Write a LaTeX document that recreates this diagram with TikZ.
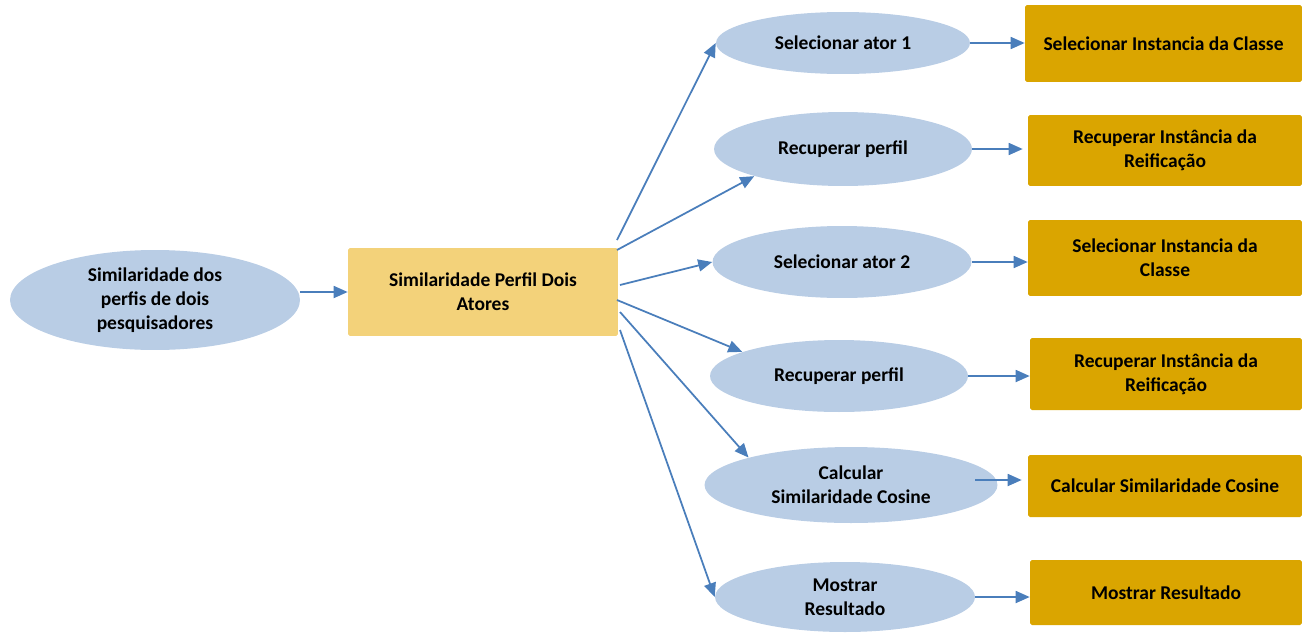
\documentclass[tikz,border=0pt]{standalone}
\usepackage{fontspec}
\setmainfont{Carlito}
\usepackage{xcolor}
\usetikzlibrary{shapes.geometric,arrows.meta,positioning}
\definecolor{ellfill}{HTML}{B9CDE5}
\definecolor{mainfill}{HTML}{F3D27A}
\definecolor{gold}{HTML}{DAA500}
\definecolor{arrow}{HTML}{4A7EBB}

\begin{document}
\begin{tikzpicture}[
  x=0.02cm, y=-0.02cm,
  ellip/.style={ellipse, fill=ellfill, inner sep=0pt, align=center,
                font=\bfseries\fontsize{11.1}{13.6}\selectfont},
  mainbox/.style={rectangle, fill=mainfill, rounded corners=1pt, align=center,
                  minimum width=5.4cm, minimum height=1.76cm,
                  font=\bfseries\fontsize{11.1}{13.6}\selectfont},
  leaf/.style={rectangle, fill=gold, rounded corners=1pt, align=center,
               inner sep=0pt, font=\bfseries\fontsize{11.1}{13.6}\selectfont},
  arr/.style={-{Triangle[length=2.8mm,width=2.4mm]}, draw=arrow, line width=1pt}
]
\useasboundingbox (0,0) rectangle (1304,636);

% root and main task
\node[ellip, minimum width=5.8cm, minimum height=2cm] (root) at (155,300)
  {Similaridade dos\\perfis de dois\\pesquisadores};
\node[mainbox] (main) at (483,292) {Similaridade Perfil Dois\\Atores};

% sub tasks
\node[ellip, minimum width=5.08cm, minimum height=1.24cm] (sel1) at (843,43) {Selecionar ator 1};
\node[ellip, minimum width=5.16cm, minimum height=1.48cm] (rec1) at (843,149) {Recuperar perfil};
\node[ellip, minimum width=5.18cm, minimum height=1.44cm] (sel2) at (842,262) {Selecionar ator 2};
\node[ellip, minimum width=5.16cm, minimum height=1.44cm] (rec2) at (839,376) {Recuperar perfil};
\node[ellip, minimum width=5.86cm, minimum height=1.52cm] (calc) at (851,485) {Calcular\\Similaridade Cosine};
\node[ellip, minimum width=5.2cm, minimum height=1.4cm] (show) at (845,597) {Mostrar\\Resultado};

% operations
\node[leaf, minimum width=5.54cm, minimum height=1.54cm] (opsel1) at (1163.5,43.5) {Selecionar Instancia da Classe};
\node[leaf, minimum width=5.48cm, minimum height=1.42cm] (oprec1) at (1165,150.5) {Recuperar Instância da\\Reificação};
\node[leaf, minimum width=5.48cm, minimum height=1.52cm] (opsel2) at (1165,258) {Selecionar Instancia da\\Classe};
\node[leaf, minimum width=5.44cm, minimum height=1.44cm] (oprec2) at (1166,374) {Recuperar Instância da\\Reificação};
\node[leaf, minimum width=5.48cm, minimum height=1.24cm] (opcalc) at (1165,486) {Calcular Similaridade Cosine};
\node[leaf, minimum width=5.44cm, minimum height=1.3cm] (opshow) at (1166,592.5) {Mostrar Resultado};

% arrow starts on the main box
\coordinate (s1) at (617,240);
\coordinate (s2) at (617,250);
\coordinate (s3) at (620,285);
\coordinate (s4) at (617,300);
\coordinate (s5) at (620,312);
\coordinate (s6) at (620,330);
\coordinate (c5) at (975,480);

\draw[arr] (root.east |- main.west) -- (main.west);
\draw[arr] (s1) -- (sel1.west);
\draw[arr] (s2) -- (rec1.197);
\draw[arr] (s3) -- (sel2.west);
\draw[arr] (s4) -- (rec2.166);
\draw[arr] (s5) -- (calc.165);
\draw[arr] (s6) -- (show.west);

\draw[arr] (sel1.east) -- (sel1.east -| opsel1.west);
\draw[arr] (rec1.east) -- ([xshift=-0.1cm]rec1.east -| oprec1.west);
\draw[arr] (sel2.east) -- (sel2.east -| opsel2.west);
\draw[arr] (rec2.east) -- (rec2.east -| oprec2.west);
\draw[arr] (c5) -- ([xshift=-0.12cm]c5 -| opcalc.west);
\draw[arr] (show.east) -- (show.east -| opshow.west);
\end{tikzpicture}
\end{document}
